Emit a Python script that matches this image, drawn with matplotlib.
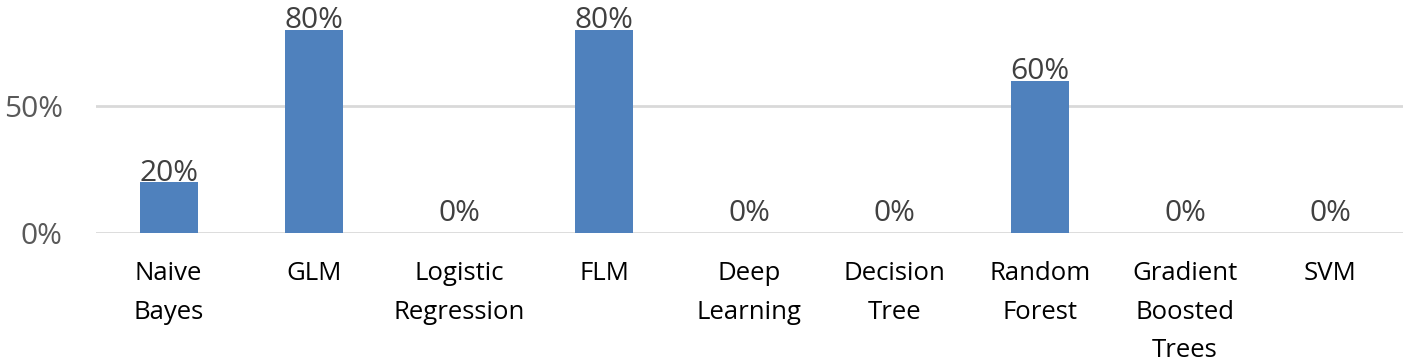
import matplotlib
matplotlib.use("Agg")
from matplotlib import pyplot as plt

models = ["Naive\nBayes", "GLM", "Logistic\nRegression", "FLM", "Deep\nLearning",
          "Decision\nTree", "Random\nForest", "Gradient\nBoosted\nTrees", "SVM"]
shares = [0.20, 0.80, 0.0, 0.80, 0.0, 0.0, 0.60, 0.0, 0.0]
yticks = [0.0, 0.5]
ytick_labels = ["0%", "50%"]

plt.rcParams["font.family"] = ["Open Sans", "DejaVu Sans"]

fig = plt.figure(figsize=(14.09, 3.63), dpi=100)
ax = fig.add_axes([0.0681, 0.358, 0.9276, 0.642])

x = range(len(models))
bars = ax.bar(x, shares, width=0.4, color="#4F81BD", zorder=3)

for b, v in zip(bars, shares):
    ax.annotate(f"{v:.0%}", (b.get_x() + b.get_width() / 2, v),
                xytext=(0, 1 if v > 0 else 9), textcoords="offset points",
                ha="center", va="baseline", fontsize=21.5, color="#404040")

ax.set_xlim(-0.5, len(models) - 0.5)
ax.set_ylim(0, 0.917)
ax.set_yticks(yticks)
ax.set_yticklabels(ytick_labels, fontsize=21.5, color="#595959")
ax.set_xticks(list(x))
ax.set_xticklabels(models, fontsize=18.5, color="black", linespacing=1.72, va="top")
ax.tick_params(axis="both", length=0)
ax.tick_params(axis="x", pad=20)
ax.tick_params(axis="y", pad=24)
ax.grid(axis="y", color="#D9D9D9", linewidth=2, zorder=0)
for s in ax.spines.values():
    s.set_visible(False)

fig.savefig("out.png", dpi=100)
